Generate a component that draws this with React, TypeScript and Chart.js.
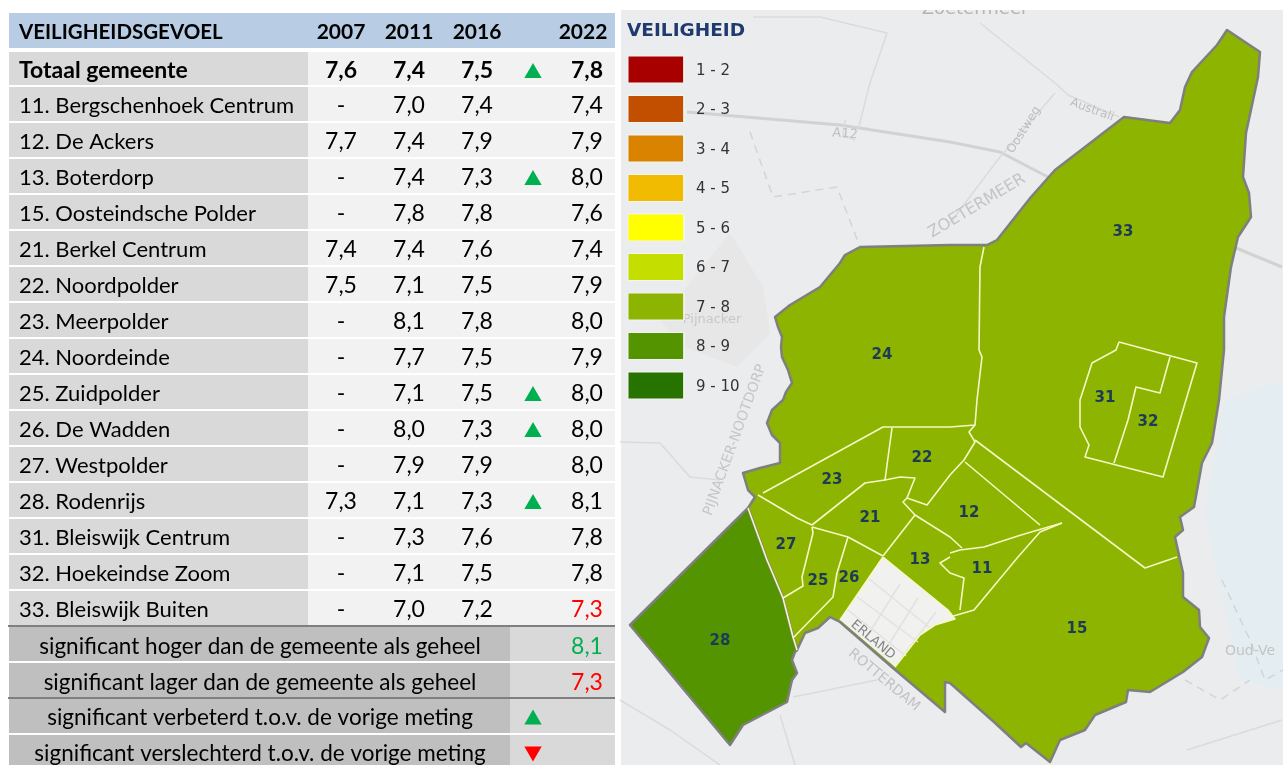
import React, { useEffect, useRef } from "react";
import { Chart, registerables } from "chart.js";

Chart.register(...registerables);

type P = [number, number];
type MapLabel = { text: string; at: P; angle: number; size: number; color: string };

// ---- table data ----
const headerTitle = "VEILIGHEIDSGEVOEL";
const years = ["2007", "2011", "2016", "2022"];
const rowLabels = [
  "Totaal gemeente", "11. Bergschenhoek Centrum", "12. De Ackers", "13. Boterdorp", "15. Oosteindsche Polder",
  "21. Berkel Centrum", "22. Noordpolder", "23. Meerpolder", "24. Noordeinde", "25. Zuidpolder", "26. De Wadden",
  "27. Westpolder", "28. Rodenrijs", "31. Bleiswijk Centrum", "32. Hoekeindse Zoom", "33. Bleiswijk Buiten",
];
const values2007 = ["7,6", "-", "7,7", "-", "-", "7,4", "7,5", "-", "-", "-", "-", "-", "7,3", "-", "-", "-"];
const values2011 = ["7,4", "7,0", "7,4", "7,4", "7,8", "7,4", "7,1", "8,1", "7,7", "7,1", "8,0", "7,9", "7,1", "7,3", "7,1", "7,0"];
const values2016 = ["7,5", "7,4", "7,9", "7,3", "7,8", "7,6", "7,5", "7,8", "7,5", "7,5", "7,3", "7,9", "7,3", "7,6", "7,5", "7,2"];
const values2022 = ["7,8", "7,4", "7,9", "8,0", "7,6", "7,4", "7,9", "8,0", "7,9", "8,0", "8,0", "8,0", "8,1", "7,8", "7,8", "7,3"];
const trendUpRows = [0, 3, 9, 10, 12];
const lowRows2022 = [15];
const keyLabels = [
  "significant hoger dan de gemeente als geheel",
  "significant lager dan de gemeente als geheel",
  "significant verbeterd t.o.v. de vorige meting",
  "significant verslechterd t.o.v. de vorige meting",
];
const keySamples = ["8,1", "7,3"];

// ---- map legend ----
const legendTitle = "VEILIGHEID";
const legendLabels = ["1 - 2", "2 - 3", "3 - 4", "4 - 5", "5 - 6", "6 - 7", "7 - 8", "8 - 9", "9 - 10"];
const legendColors = ["#a80000", "#c24f00", "#d98300", "#f0bb00", "#ffff00", "#c4de00", "#8cb400", "#549400", "#267300"];

// ---- map geometry, in map units ----
const municipality: P[] = [
  [860, 247], [845, 255], [840, 263], [830, 275], [820, 287], [805, 296], [790, 305], [775, 317], [778, 327], [782, 337], [781, 347], [782, 357],
  [788, 370], [792, 383], [786, 392], [783, 400], [772, 410], [767, 423], [772, 435], [780, 443], [780, 463], [760, 468], [743, 473], [748, 490],
  [755, 497], [748, 508], [767, 560], [783, 598], [793, 637], [797, 650], [805, 633], [818, 628], [830, 617], [840, 622], [893, 668], [945, 712],
  [945, 682], [950, 683], [994, 722], [1021, 747], [1026, 743], [1050, 762], [1060, 740], [1085, 730], [1095, 715], [1126, 702], [1128, 690],
  [1150, 692], [1183, 672], [1202, 657], [1209, 638], [1200, 627], [1199, 610], [1183, 597], [1183, 573], [1175, 537], [1183, 530], [1180, 517],
  [1194, 507], [1202, 463], [1212, 443], [1219, 400], [1224, 350], [1224, 317], [1231, 267], [1238, 237], [1251, 217], [1249, 193], [1243, 177],
  [1246, 133], [1258, 77], [1260, 52], [1227, 30], [1217, 45], [1192, 72], [1185, 87], [1180, 110], [1170, 123], [1124, 117], [1085, 147],
  [1055, 170], [1031, 197], [997, 240], [987, 245], [950, 245],
];
const rodenrijs: P[] = [
  [748, 508], [630, 625], [730, 745], [743, 725], [787, 702], [792, 680], [797, 673], [792, 660], [795, 652], [797, 650], [793, 637], [783, 598], [767, 560],
];
const excluded: P[] = [[883, 557], [948, 610], [955, 619], [935, 625], [920, 635], [895, 667], [840, 620]];
const excludedStreets: P[][] = [
  [[868, 578], [930, 628]],
  [[856, 596], [918, 642]],
  [[848, 610], [906, 656]],
  [[900, 584], [866, 638]],
  [[918, 598], [884, 652]],
  [[936, 612], [900, 660]],
];
const districtLines: P[][] = [
  [[984, 247], [980, 267], [979, 350], [982, 357], [977, 400], [975, 425], [950, 427], [883, 427], [763, 493]],
  [[892, 428], [885, 480], [900, 477], [915, 478], [907, 498], [903, 502], [915, 515], [950, 537], [962, 548]],
  [[885, 480], [865, 483], [812, 525]],
  [[758, 495], [797, 518], [812, 525]],
  [[748, 508], [767, 560], [783, 598], [793, 637], [797, 650]],
  [[783, 598], [803, 586], [802, 577], [813, 533], [812, 527]],
  [[812, 527], [848, 537], [883, 556]],
  [[883, 556], [915, 515]],
  [[907, 498], [927, 505], [950, 475], [964, 460], [975, 442], [969, 432], [975, 425]],
  [[965, 462], [1040, 525]],
  [[950, 553], [960, 550], [984, 547], [1021, 535], [1062, 523]],
  [[975, 440], [1145, 568], [1177, 557]],
  [[950, 557], [940, 563], [950, 573], [964, 578], [960, 610]],
  [[950, 617], [974, 610], [1018, 557], [1040, 532], [1062, 523]],
  [[848, 537], [837, 573], [833, 597], [793, 638]],
  [[883, 557], [948, 610], [955, 619], [935, 625], [920, 635], [895, 667]],
  [[883, 557], [840, 620]],
  [[1119, 342], [1197, 363], [1180, 420], [1163, 477], [1085, 457], [1089, 445], [1080, 427], [1080, 400], [1092, 363], [1116, 350], [1119, 342]],
  [[1170, 357], [1160, 393], [1136, 387], [1128, 420], [1114, 463]],
];
const districtIds = ["33", "24", "31", "32", "22", "23", "21", "12", "27", "13", "11", "25", "26", "28", "15"];
const districtAnchors: P[] = [
  [1123, 232], [882, 355], [1105, 398], [1148, 422], [922, 458], [832, 480], [870, 518], [969, 513], [786, 545], [920, 560], [982, 569], [818, 581],
  [849, 578], [720, 641], [1077, 629],
];

// ---- base map ----
const urbanPatch: P[] = [[730, 233], [763, 287], [770, 333], [737, 367], [680, 345], [660, 320], [700, 270]];
const waterPatch: P[] = [[1225, 400], [1283, 380], [1283, 690], [1240, 680], [1215, 560], [1205, 510], [1218, 440]];
const motorways: P[][] = [
  [[687, 112], [840, 125], [950, 142], [1000, 152], [1048, 177]],
  [[1236, 248], [1282, 267]],
];
const roads: P[][] = [
  [[1055, 93], [1000, 157], [950, 223]],
  [[980, 23], [1055, 83], [1068, 95], [1119, 117]],
  [[753, 17], [820, 17], [887, 33], [870, 83], [858, 130]],
  [[845, 120], [843, 135], [855, 140]],
  [[620, 442], [660, 443], [690, 477], [720, 480]],
  [[793, 697], [877, 680]],
  [[1187, 750], [1282, 720]],
  [[620, 700], [670, 730], [720, 765]],
  [[780, 715], [795, 765]],
];
const dashedRoads: P[][] = [
  [[750, 132], [773, 197], [837, 187], [860, 247]],
  [[1222, 580], [1250, 640], [1265, 680], [1283, 670]],
  [[1185, 680], [1220, 700], [1250, 680]],
];
const baseLabels: MapLabel[] = [
  { text: "Zoetermeer", at: [975, 9], angle: 0, size: 18, color: "#b4b4b4" },
  { text: "A12", at: [845, 134], angle: 5, size: 13, color: "#c0c0c0" },
  { text: "ZOETERMEER", at: [977, 206], angle: -31, size: 16, color: "#c4c4c4" },
  { text: "Oostweg", at: [1024, 130], angle: -58, size: 12, color: "#bdbdbd" },
  { text: "Australi", at: [1092, 110], angle: 20, size: 12, color: "#bdbdbd" },
  { text: "Pijnacker", at: [712, 320], angle: 0, size: 13, color: "#c8c8c8" },
  { text: "PIJNACKER-NOOTDORP", at: [735, 440], angle: -70, size: 14, color: "#c6c6c6" },
  { text: "ROTTERDAM", at: [884, 680], angle: 40, size: 14, color: "#c2c2c2" },
  { text: "Oud-Ve", at: [1250, 651], angle: 0, size: 14, color: "#c4c4c4" },
];
const overlayLabels: MapLabel[] = [{ text: "ERLAND", at: [873, 640], angle: 40, size: 13, color: "#858585" }];

// ---- layout helpers ----
const W = 1283;
const H = 765;
const tableFont = "Lato";
const rowTop = (i: number) => (i === 0 ? 52 : 87 + 36 * (i - 1));
const rowBottom = (i: number) => (i === 0 ? 85 : 121 + 36 * (i - 1));
const rowMid = (i: number) => (i === 0 ? 71 : 106 + 36 * (i - 1));
const keyTops = [627, 663, 699, 735];
const keyBottoms = [661, 697, 733, 765];
const keyMids = [646.5, 682.5, 717.5, 753.5];
const colX = [341, 409, 477, 587];
const headX = [341, 409, 477, 583];
const trendX = 533;

const rect = (x0: number, y0: number, x1: number, y1: number): P[] => [[x0, y0], [x1, y0], [x1, y1], [x0, y1], [x0, y0]];
const pts = (p: P[]) => p.map(([x, y]) => ({ x, y }));
const area = (p: P[], fill: string, stroke = "transparent", width = 0) => ({
  type: "scatter", data: pts([...p, p[0]]), showLine: true, fill: "shape", tension: 0, backgroundColor: fill,
  borderColor: stroke, borderWidth: width, pointRadius: 0, borderJoinStyle: "round",
});
const line = (p: P[], color: string, width: number, dash: number[] = []) => ({
  type: "scatter", data: pts(p), showLine: true, fill: false, tension: 0, borderColor: color, borderWidth: width,
  borderDash: dash, pointRadius: 0, borderJoinStyle: "round",
});

type T = { s: string; x: number; y: number; font: string; color: string; align?: CanvasTextAlign };

function buildTexts(): T[] {
  const out: T[] = [];
  const reg = `400 22px ${tableFont}`;
  const val = `400 23px ${tableFont}`;
  const bold = `700 23px ${tableFont}`;
  out.push({ s: headerTitle, x: 19, y: 32, font: `700 20.5px ${tableFont}`, color: "#000" });
  years.forEach((y, i) => out.push({ s: y, x: headX[i], y: 32, font: `700 21px ${tableFont}`, color: "#000", align: "center" }));
  const cols = [values2007, values2011, values2016, values2022];
  rowLabels.forEach((label, r) => {
    const vf = r === 0 ? bold : val;
    out.push({ s: label, x: 19, y: rowMid(r), font: r === 0 ? bold : reg, color: "#000" });
    cols.forEach((c, ci) =>
      out.push({
        s: c[r], x: colX[ci], y: rowMid(r), font: vf, align: "center",
        color: ci === 3 && lowRows2022.includes(r) ? "#ff0000" : "#000",
      })
    );
  });
  keyLabels.forEach((k, i) => out.push({ s: k, x: 260, y: keyMids[i], font: `400 22.5px ${tableFont}`, color: "#000", align: "center" }));
  out.push({ s: keySamples[0], x: colX[3], y: keyMids[0], font: val, color: "#00b050", align: "center" });
  out.push({ s: keySamples[1], x: colX[3], y: keyMids[1], font: val, color: "#ff0000", align: "center" });
  out.push({ s: legendTitle, x: 627, y: 31, font: "700 18.5px 'DejaVu Sans'", color: "#1f3a6e" });
  legendLabels.forEach((l, i) =>
    out.push({ s: l, x: 696, y: 71 + 39.5 * i, font: "400 15px 'DejaVu Sans'", color: "#333" })
  );
  districtIds.forEach((id, i) =>
    out.push({ s: id, x: districtAnchors[i][0], y: districtAnchors[i][1], font: "700 15px 'DejaVu Sans'", color: "#1d3b57", align: "center" })
  );
  return out;
}

function drawMapLabels(chart: any, list: MapLabel[]) {
  const { ctx, scales } = chart;
  ctx.save();
  ctx.beginPath();
  ctx.rect(621, 10, W - 621, H - 10);
  ctx.clip();
  ctx.textAlign = "center";
  ctx.textBaseline = "middle";
  for (const b of list) {
    ctx.save();
    ctx.translate(scales.x.getPixelForValue(b.at[0]), scales.y.getPixelForValue(b.at[1]));
    ctx.rotate((b.angle * Math.PI) / 180);
    ctx.font = `400 ${b.size}px 'DejaVu Sans'`;
    ctx.fillStyle = b.color;
    ctx.fillText(b.text, 0, 0);
    ctx.restore();
  }
  ctx.restore();
}

const textPlugin = {
  id: "texts",
  afterDatasetDraw(chart: any, args: any) {
    if (chart.data.datasets[args.index].label === "basemap-top") drawMapLabels(chart, baseLabels);
  },
  afterDraw(chart: any) {
    const { ctx, scales } = chart;
    drawMapLabels(chart, overlayLabels);
    ctx.save();
    ctx.textBaseline = "middle";
    for (const t of buildTexts()) {
      ctx.font = t.font;
      ctx.fillStyle = t.color;
      ctx.textAlign = t.align ?? "left";
      ctx.fillText(t.s, scales.x.getPixelForValue(t.x), scales.y.getPixelForValue(t.y));
    }
    ctx.restore();
  },
};

function buildDatasets(): any[] {
  const ds: any[] = [];
  // table cells
  ds.push(area(rect(9, 13, 615, 48), "#b8cce4"));
  rowLabels.forEach((_, r) => {
    ds.push(area(rect(9, rowTop(r), 308, rowBottom(r)), "#d9d9d9"));
    ds.push(area(rect(308, rowTop(r), 615, rowBottom(r)), "#f2f2f2"));
  });
  keyLabels.forEach((_, i) => {
    ds.push(area(rect(9, keyTops[i], 510, keyBottoms[i]), "#bfbfbf"));
    ds.push(area(rect(510, keyTops[i], 615, keyBottoms[i]), "#d9d9d9"));
  });
  ds.push(line([[8, 626], [615, 626]], "#7f7f7f", 2));
  ds.push(line([[8, 698], [615, 698]], "#7f7f7f", 2));
  // base map
  ds.push(area(rect(621, 10, W, H), "#ebeced"));
  ds.push(area(urbanPatch, "#e7e7e8"));
  ds.push(area(waterPatch, "#e4edf2"));
  motorways.forEach((m) => ds.push(line(m, "#d2d2d3", 3)));
  roads.forEach((m) => ds.push(line(m, "#dbdbdc", 1.5)));
  dashedRoads.forEach((m, i) =>
    ds.push({ ...line(m, "#d4d4d5", 1.5, [8, 6]), label: i === dashedRoads.length - 1 ? "basemap-top" : undefined })
  );
  // regions
  ds.push(area(municipality, "#8cb400"));
  ds.push(area(excluded, "#f1f1ef"));
  excludedStreets.forEach((s) => ds.push(line(s, "#e2e2df", 1.5)));
  ds.push(area(rodenrijs, "#549400", "#7f7f7f", 2.5));
  ds.push(area(municipality, "transparent", "#7f7f7f", 2.5));
  districtLines.forEach((d) => ds.push(line(d, "#f6f8c4", 1.6)));
  // legend swatches
  legendColors.forEach((c, i) => {
    const top = 56 + 39.5 * i;
    ds.push(area(rect(628, top, 684, top + 27), c, "#f4f4ee", 1));
  });
  // trend markers
  const up: P[] = [
    ...trendUpRows.map((r) => [trendX, rowMid(r) + 2] as P),
    [trendX, keyMids[2] + 2],
  ];
  ds.push({
    type: "scatter", data: pts(up), showLine: false, pointStyle: "triangle", pointRadius: 10,
    pointBackgroundColor: "#00b050", pointBorderWidth: 0,
  });
  ds.push({
    type: "scatter", data: pts([[trendX, keyMids[3] - 2]]), showLine: false, pointStyle: "triangle", pointRadius: 10,
    pointRotation: 180, pointBackgroundColor: "#ff0000", pointBorderWidth: 0,
  });
  return ds.reverse();
}

export default function App() {
  const ref = useRef<HTMLCanvasElement>(null);
  useEffect(() => {
    const chart = new Chart(ref.current as HTMLCanvasElement, {
      type: "scatter",
      data: { datasets: buildDatasets() },
      options: {
        responsive: false,
        animation: false,
        events: [],
        layout: { padding: 0, autoPadding: false },
        plugins: { legend: { display: false }, tooltip: { enabled: false }, title: { display: false } },
        scales: {
          x: { type: "linear", min: 0, max: W, display: false },
          y: { type: "linear", min: 0, max: H, reverse: true, display: false },
        },
      },
      plugins: [textPlugin],
    } as any);
    return () => chart.destroy();
  }, []);
  return (
    <div style={{ position: "fixed", left: 0, top: 0, width: W, height: H, background: "#fff", overflow: "hidden" }}>
      <canvas ref={ref} width={W} height={H} style={{ display: "block" }} />
    </div>
  );
}
